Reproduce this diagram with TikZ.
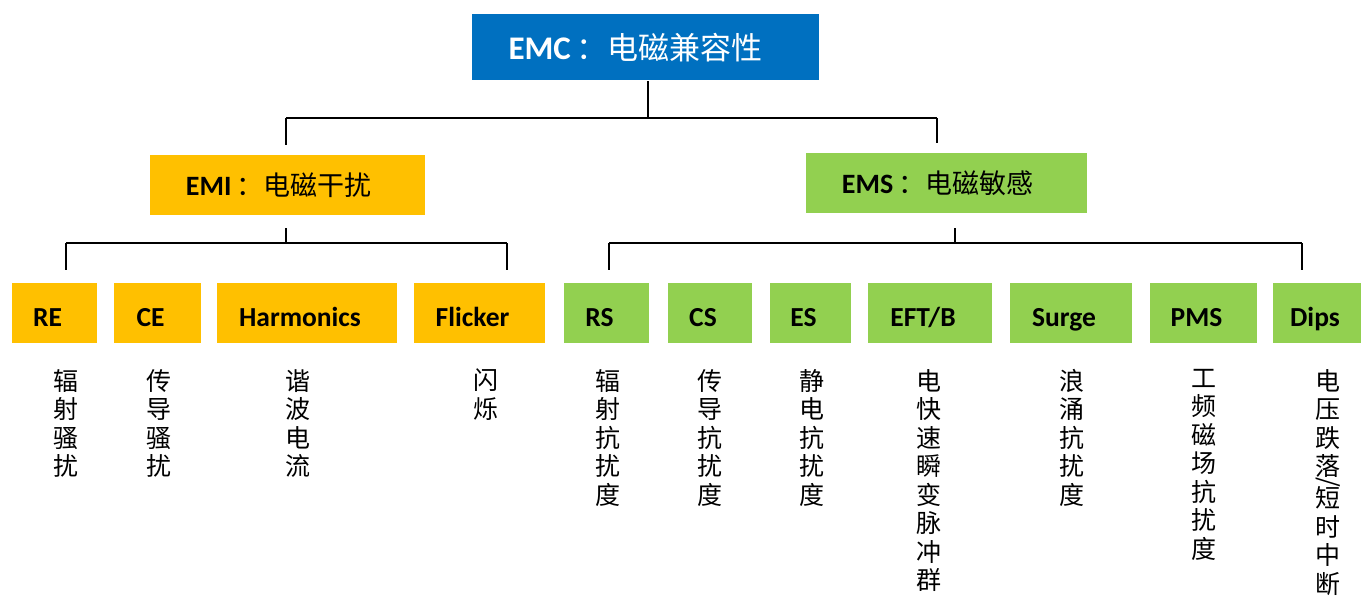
\documentclass[tikz,border=0pt]{standalone}
\usepackage{fontspec}
\usepackage{graphicx}
\setmainfont{Carlito}
\newfontfamily\cjk{Noto Sans CJK SC}
\definecolor{emcblue}{HTML}{0070C0}
\definecolor{emiyellow}{HTML}{FFC000}
\definecolor{emsgreen}{HTML}{92D050}
\newcommand{\lf}[1]{#1\hspace*{14pt}}
\begin{document}
\begin{tikzpicture}[x=1pt,y=-1pt,
  topbox/.style={fill=emcblue,text=white,minimum width=347pt,minimum height=66pt,inner sep=0pt,font=\fontsize{33}{36}\selectfont\bfseries},
  midbox/.style={minimum height=60pt,inner sep=0pt,font=\fontsize{28}{30}\selectfont\bfseries},
  leafbox/.style={minimum height=60pt,inner sep=0pt,text height=30pt,text depth=4pt,font=\fontsize{27.5}{30}\selectfont\bfseries},
  emi/.style={fill=emiyellow},
  ems/.style={fill=emsgreen},
  vtext/.style={anchor=north,align=center,inner sep=0pt,font=\cjk\fontsize{25}{28.5}\selectfont},
  conn/.style={draw=black,line width=1.6pt}]
\useasboundingbox[fill=white] (0,0) rectangle (1361,599);
% top
\node[topbox] (emc) at (645.5,47.5) {EMC\,{\cjk\mdseries\fontsize{31}{36}\selectfont ：电磁兼容性}\hspace*{20pt}};
% second level
\node[midbox,emi,minimum width=275pt] (emi) at (287.5,185) {EMI\,{\cjk\mdseries\fontsize{27}{30}\selectfont ：电磁干扰}\hspace*{18pt}};
\node[midbox,ems,minimum width=281pt] (ems) at (946.5,183) {EMS\,{\cjk\mdseries\fontsize{27}{30}\selectfont ：电磁敏感}\hspace*{18pt}};
% leaves
\node[leafbox,emi,minimum width=85pt]  (re)  at (54.5,313)  {\lf{RE}};
\node[leafbox,emi,minimum width=87pt]  (ce)  at (157.5,313) {\lf{CE}};
\node[leafbox,emi,minimum width=180pt] (har) at (307,313)   {\lf{Harmonics}};
\node[leafbox,emi,minimum width=131pt] (fli) at (479.5,313) {\lf{Flicker}};
\node[leafbox,ems,minimum width=85pt]  (rs)  at (606.5,313) {\lf{RS}};
\node[leafbox,ems,minimum width=84pt]  (cs)  at (710,313)   {\lf{CS}};
\node[leafbox,ems,minimum width=81pt]  (es)  at (810.5,313) {\lf{ES}};
\node[leafbox,ems,minimum width=124pt] (eft) at (930,313)   {\lf{EFT/B}};
\node[leafbox,ems,minimum width=122pt] (sur) at (1071,313)  {\lf{Surge}};
\node[leafbox,ems,minimum width=107pt] (pms) at (1203.5,313){\lf{PMS}};
\node[leafbox,ems,minimum width=88pt]  (dip) at (1317,313)  {Dips\hspace*{4pt}};
% vertical descriptions
\node[vtext] (t1)  at (66,369)   {辐\\射\\骚\\扰};
\node[vtext] (t2)  at (159,369)  {传\\导\\骚\\扰};
\node[vtext] (t3)  at (298,369)  {谐\\波\\电\\流};
\node[vtext] (t4)  at (486,369)  {闪\\烁};
\node[vtext] (t5)  at (608,369)  {辐\\射\\抗\\扰\\度};
\node[vtext] (t6)  at (710,369)  {传\\导\\抗\\扰\\度};
\node[vtext] (t7)  at (812,369)  {静\\电\\抗\\扰\\度};
\node[vtext] (t8)  at (929,369)  {电\\快\\速\\瞬\\变\\脉\\冲\\群};
\node[vtext] (t9)  at (1072,369) {浪\\涌\\抗\\扰\\度};
\node[vtext] (t10) at (1204,369) {工\\频\\磁\\场\\抗\\扰\\度};
\node[vtext] (t11) at (1328,369) {电\\压\\跌\\落\\[-14pt]\rotatebox[origin=c]{-90}{/}\\[-11pt]短\\时\\中\\断};
% connectors level 1
\coordinate (b1l) at (286,118);
\coordinate (b1r) at (937,118);
\coordinate (c1) at (648,118);
\draw[conn] (c1) -- (emc.south -| c1) ++(0,10) -- (c1);
\draw[conn] (b1l) -- (b1r);
\draw[conn] (b1l) -- ([yshift=10pt]emi.north -| b1l);
\draw[conn] (b1r) -- ([yshift=10pt]ems.north -| b1r);
% connectors EMI
\coordinate (b2l) at (66,243);
\coordinate (b2r) at (507,243);
\coordinate (c2) at (286,243);
\draw[conn] ([yshift=-13pt]emi.south -| c2) -- (c2);
\draw[conn] (b2l) -- (b2r);
\draw[conn] (b2l) -- ([yshift=13pt]re.north -| b2l);
\draw[conn] (b2r) -- ([yshift=13pt]fli.north -| b2r);
% connectors EMS
\coordinate (b3l) at (609,243);
\coordinate (b3r) at (1302,243);
\coordinate (c3) at (955,243);
\draw[conn] ([yshift=-15pt]ems.south -| c3) -- (c3);
\draw[conn] (b3l) -- (b3r);
\draw[conn] (b3l) -- ([yshift=13pt]rs.north -| b3l);
\draw[conn] (b3r) -- ([yshift=13pt]dip.north -| b3r);
\end{tikzpicture}
\end{document}
